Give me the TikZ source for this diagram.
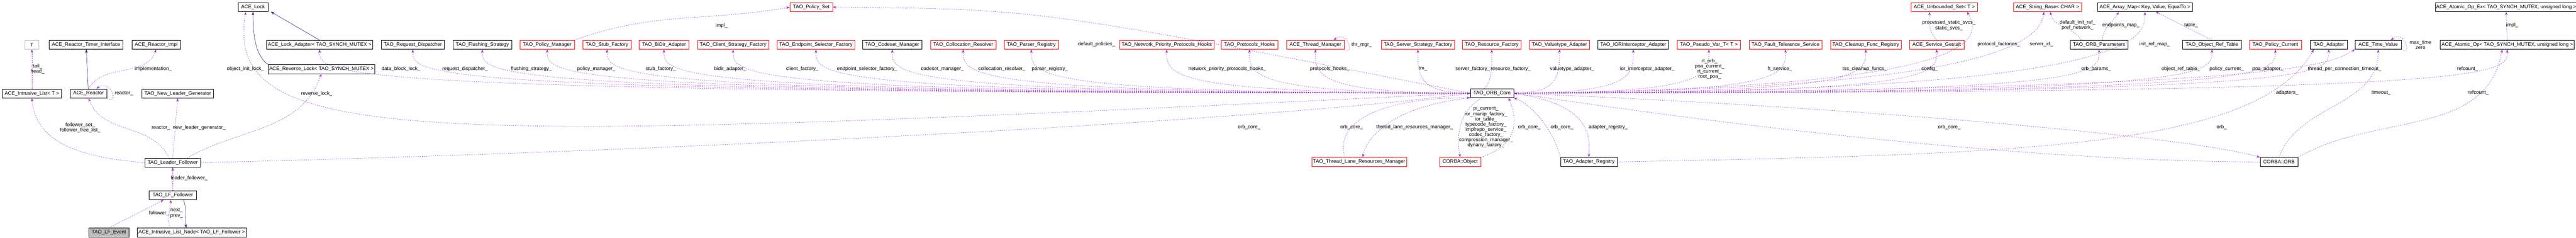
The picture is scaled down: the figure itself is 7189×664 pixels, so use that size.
\documentclass[tikz,border=0pt]{standalone}
\usepackage{fontspec}
\setmainfont{Liberation Sans}
\usetikzlibrary{arrows.meta}
\definecolor{usecol}{RGB}{154,50,205}
\definecolor{inhcol}{RGB}{25,25,112}
\begin{document}
\begin{tikzpicture}[x=1pt,y=1pt]
    \tikzset{
        cls/.style = {rectangle, draw=black, thick, fill=white, minimum height=25pt, inner sep=2pt, font=\fontsize{14}{15}\selectfont},
        redcls/.style = {cls, draw=red},
        lbl/.style = {align=center, inner sep=0pt, font=\fontsize{14}{14.6}\selectfont},
        use/.style = {draw=usecol, thick, dashed, -{Stealth[length=10pt, width=7pt]}},
        inh/.style = {draw=inhcol, thick, -{Stealth[length=10pt, width=7pt]}}
    }
    \useasboundingbox (0,0) rectangle (7189,-664);
    % top row
    \node[cls, minimum width=84pt] (lock) at (706,-20) {ACE\_Lock};
    \node[redcls, minimum width=119pt] (polset) at (2264,-20) {TAO\_Policy\_Set};
    \node[redcls, minimum width=186pt] (unbset) at (5426,-20) {ACE\_Unbounded\_Set< T >};
    \node[redcls, minimum width=190pt] (strbase) at (5714,-20) {ACE\_String\_Base< CHAR >};
    \node[cls, minimum width=264pt] (arrmap) at (5986,-20) {ACE\_Array\_Map< Key, Value, EqualTo >};
    \node[cls, minimum width=388pt] (atomex) at (6994,-20) {ACE\_Atomic\_Op\_Ex< TAO\_SYNCH\_MUTEX, unsigned long >};
    % second row
    \node[cls, draw=gray!50, minimum width=38pt] (T) at (89,-125) {T};
    \node[cls, minimum width=206pt] (rti) at (240,-125) {ACE\_Reactor\_Timer\_Interface};
    \node[cls, minimum width=136pt] (rimpl) at (436,-125) {ACE\_Reactor\_Impl};
    \node[cls, minimum width=296pt] (lockad) at (892,-125) {ACE\_Lock\_Adapter< TAO\_SYNCH\_MUTEX >};
    \node[cls, minimum width=176pt] (disp) at (1152,-125) {TAO\_Request\_Dispatcher};
    \node[cls, minimum width=164pt] (flush) at (1346,-125) {TAO\_Flushing\_Strategy};
    \node[redcls, minimum width=152pt] (polmgr) at (1527,-125) {TAO\_Policy\_Manager};
    \node[redcls, minimum width=134pt] (stubf) at (1694,-125) {TAO\_Stub\_Factory};
    \node[redcls, minimum width=139pt] (bidir) at (1853,-125) {TAO\_BiDir\_Adapter};
    \node[redcls, minimum width=198pt] (csf) at (2046,-125) {TAO\_Client\_Strategy\_Factory};
    \node[redcls, minimum width=217pt] (esf) at (2277,-125) {TAO\_Endpoint\_Selector\_Factory};
    \node[cls, minimum width=165pt] (codeset) at (2490,-125) {TAO\_Codeset\_Manager};
    \node[redcls, minimum width=182pt] (colloc) at (2688,-125) {TAO\_Collocation\_Resolver};
    \node[redcls, minimum width=150pt] (parser) at (2878,-125) {TAO\_Parser\_Registry};
    \node[redcls, minimum width=263pt] (nphooks) at (3256,-125) {TAO\_Network\_Priority\_Protocols\_Hooks};
    \node[redcls, minimum width=159pt] (phooks) at (3487,-125) {TAO\_Protocols\_Hooks};
    \node[redcls, minimum width=160pt] (thrmgr) at (3671,-125) {ACE\_Thread\_Manager};
    \node[redcls, minimum width=204pt] (ssf) at (3957,-125) {TAO\_Server\_Strategy\_Factory};
    \node[redcls, minimum width=164pt] (resf) at (4163,-125) {TAO\_Resource\_Factory};
    \node[redcls, minimum width=168pt] (vtad) at (4352,-125) {TAO\_Valuetype\_Adapter};
    \node[cls, minimum width=197pt] (iorad) at (4558,-125) {TAO\_IORInterceptor\_Adapter};
    \node[redcls, minimum width=176pt] (pseudo) at (4769,-125) {TAO\_Pseudo\_Var\_T< T >};
    \node[redcls, minimum width=204pt] (ftserv) at (4983,-125) {TAO\_Fault\_Tolerance\_Service};
    \node[redcls, minimum width=197pt] (cleanup) at (5207,-125) {TAO\_Cleanup\_Func\_Registry};
    \node[redcls, minimum width=152pt] (gestalt) at (5405,-125) {ACE\_Service\_Gestalt};
    \node[cls, minimum width=160pt] (orbparams) at (5858,-125) {TAO\_ORB\_Parameters};
    \node[cls, minimum width=163pt] (objref) at (6173,-125) {TAO\_Object\_Ref\_Table};
    \node[redcls, minimum width=145pt] (polcur) at (6350,-125) {TAO\_Policy\_Current};
    \node[cls, minimum width=103pt] (adapter) at (6499,-125) {TAO\_Adapter};
    \node[cls, minimum width=129pt] (timeval) at (6637,-125) {ACE\_Time\_Value};
    \node[cls, minimum width=374pt] (atomop) at (6997,-125) {ACE\_Atomic\_Op< TAO\_SYNCH\_MUTEX, unsigned long >};
    % middle rows
    \node[cls, minimum width=297pt] (revlock) at (897,-193) {ACE\_Reverse\_Lock< TAO\_SYNCH\_MUTEX >};
    \node[cls, minimum width=166pt] (ilist) at (89,-261) {ACE\_Intrusive\_List< T >};
    \node[cls, minimum width=103pt] (reactor) at (247,-261) {ACE\_Reactor};
    \node[cls, minimum width=199pt] (nlg) at (496,-261) {TAO\_New\_Leader\_Generator};
    \node[cls, minimum width=121pt] (core) at (4164,-260) {TAO\_ORB\_Core};
    % lower rows
    \node[cls, minimum width=155pt] (lf) at (482,-454) {TAO\_Leader\_Follower};
    \node[redcls, minimum width=264pt] (tlrm) at (3793,-452) {TAO\_Thread\_Lane\_Resources\_Manager};
    \node[redcls, minimum width=114pt] (cobj) at (4075,-452) {CORBA::Object};
    \node[cls, minimum width=158pt] (areg) at (4434,-452) {TAO\_Adapter\_Registry};
    \node[cls, minimum width=105pt] (corb) at (6360,-452) {CORBA::ORB};
    \node[cls, minimum width=131pt] (lff) at (482,-545) {TAO\_LF\_Follower};
    \node[cls, fill=gray!50, minimum width=113pt] (lfevent) at (304,-649) {TAO\_LF\_Event};
    \node[cls, minimum width=304pt] (ilnode) at (535,-649) {ACE\_Intrusive\_List\_Node< TAO\_LF\_Follower >};

    % inheritance
    \path[inh] (reactor) -- (rti);
    \path[inh] (lockad.north) -- ([xshift=50]lock.south);
    \path[inh] (revlock.north west) .. controls (720,-160) and (706,-120) .. (lock.south);
    \path[inh] ([xshift=30]lff.south) to[out=-70,in=100] ([xshift=-15]ilnode.north);

    % usage, left part
    \path[use] (ilist.north) -- (T.south);
    \path[use] (reactor.north) to[out=60,in=-110] (rimpl.south);
    \path[use] (reactor.south east) .. controls +(35,-20) and +(40,30) .. ([xshift=-30]reactor.north east);
    \path[use] (lf.west) to[out=175,in=-85] (ilist.south);
    \path[use] ([xshift=-10]lf.north) to[out=115,in=-70] (reactor.south);
    \path[use] (lf.north) -- (nlg.south);
    \path[use] ([xshift=40]lf.north) to[out=30,in=-110] (revlock.south);
    \path[use] (lff.north) -- (lf.south);
    \path[use] (lfevent.north) -- ([xshift=-25]lff.south);
    \path[use] ([xshift=-60]ilnode.north) to[out=110,in=-95] ([xshift=-5]lff.south);
    \path[use] (lf.east) .. controls (2000,-420) and (3600,-330) .. (core.west);
    \path[use] (core.west) .. controls (1200,-400) and (620,-420) .. ([xshift=-20]lock.south);
    \path[use] (core.west) .. controls (2900,-25) and (2900,-25) .. (polset.east);
    \path[use] (polmgr.north east) to[out=20,in=190] (polset.west);

    % usage from the core upwards
    \foreach \t in {lockad, disp, flush, polmgr, stubf, bidir, csf, esf, codeset, colloc, parser, nphooks, phooks, thrmgr, ssf, resf}
        \path[use] (core.west) .. controls (\t.south |- core.west) and ([yshift=-70]\t.south) .. (\t.south);
    \foreach \t in {vtad, iorad, pseudo, ftserv, cleanup, gestalt, orbparams, objref, polcur, adapter, atomop, arrmap}
        \path[use] (core.east) .. controls (\t.south |- core.east) and ([yshift=-70]\t.south) .. (\t.south);
    \path[use] (core.east) .. controls (6400,-250) and (6500,-180) .. (timeval.south west);
    \path[use] (thrmgr.south east) .. controls +(30,-20) and +(40,30) .. ([xshift=-30]thrmgr.north east);
    \path[use] (timeval.south east) .. controls +(30,-20) and +(40,30) .. ([xshift=-30]timeval.north east);
    \path[use] (core.east) .. controls (5500,-245) and (5540,-120) .. ([xshift=-30]unbset.south east);
    \path[use] (gestalt.north) to[bend left=25] ([xshift=-40]unbset.south);
    \path[use] (core.east) .. controls (5400,-250) and (5690,-150) .. ([xshift=-10]strbase.south);
    \path[use] ([xshift=-50]orbparams.north) to[out=120,in=-80] ([xshift=8]strbase.south);
    \path[use] ([xshift=10]orbparams.north) to[out=90,in=-120] ([xshift=-73]arrmap.south);
    \path[use] (objref.north) -- ([xshift=30]arrmap.south);
    \path[use] (atomop.north) -- (atomex.south);

    % usage around the core, lower part
    \path[use] (core.south west) .. controls (3860,-300) and (3810,-400) .. ([xshift=10]tlrm.north);
    \path[use] ([xshift=-40]tlrm.north) .. controls (3720,-320) and (3900,-272) .. (core.south west);
    \path[use] ([xshift=-30]core.south) .. controls (4060,-320) and (4068,-400) .. (cobj.north);
    \path[use] (cobj.north east) .. controls (4250,-400) and (4230,-320) .. ([xshift=-15]core.south east);
    \path[use] (areg.north west) .. controls (4340,-380) and (4290,-300) .. (core.south east);
    \path[use] (core.east) .. controls (4420,-290) and (4440,-360) .. (areg.north);
    \path[use] (areg.east) .. controls (5600,-430) and (6300,-420) .. ([xshift=10]adapter.south west);
    \path[use] (core.east) .. controls (5200,-300) and (6100,-380) .. (corb.north west);
    \path[use] (corb.west) .. controls (5500,-450) and (4500,-300) .. (core.east);
    \path[use] (corb.north) to[out=70,in=-90] (timeval.south);
    \path[use] (corb.north east) to[out=30,in=-100] ([xshift=-14]atomop.south);

    % labels
    \node[lbl] (l1) at (105,-193) {tail\_\\head\_};
    \node[lbl] (l2) at (428,-193) {implementation\_};
    \node[lbl] (l3) at (346,-261) {reactor\_};
    \node[lbl] (l4) at (685,-193) {object\_init\_lock\_};
    \node[lbl] (l5) at (1119,-193) {data\_block\_lock\_};
    \node[lbl] (l6) at (884,-261) {reverse\_lock\_};
    \node[lbl] (l7) at (224,-357) {follower\_set\_\\follower\_free\_list\_};
    \node[lbl] (l8) at (449,-357) {reactor\_};
    \node[lbl] (l9) at (556,-357) {new\_leader\_generator\_};
    \node[lbl] (l10) at (528,-498) {leader\_follower\_};
    \node[lbl] (l11) at (444,-595) {follower\_};
    \node[lbl] (l12) at (493,-595) {next\_\\prev\_};
    \node[lbl] (l13) at (2014,-72) {impl\_};
    \node[lbl] (l14) at (1298,-192) {request\_dispatcher\_};
    \node[lbl] (l15) at (1483,-192) {flushing\_strategy\_};
    \node[lbl] (l16) at (1664,-192) {policy\_manager\_};
    \node[lbl] (l17) at (1844,-192) {stub\_factory\_};
    \node[lbl] (l18) at (2038,-192) {bidir\_adapter\_};
    \node[lbl] (l19) at (2239,-192) {client\_factory\_};
    \node[lbl] (l20) at (2420,-192) {endpoint\_selector\_factory\_};
    \node[lbl] (l21) at (2630,-192) {codeset\_manager\_};
    \node[lbl] (l22) at (2796,-192) {collocation\_resolver\_};
    \node[lbl] (l23) at (2930,-192) {parser\_registry\_};
    \node[lbl] (l24) at (3060,-124) {default\_policies\_};
    \node[lbl] (l25) at (3425,-192) {network\_priority\_protocols\_hooks\_};
    \node[lbl] (l26) at (3486,-355) {orb\_core\_};
    \node[lbl] (l27) at (3800,-125) {thr\_mgr\_};
    \node[lbl] (l28) at (3711,-192) {protocols\_hooks\_};
    \node[lbl] (l29) at (3971,-192) {tm\_};
    \node[lbl] (l30) at (4110,-192) {server\_factory\_};
    \node[lbl] (l31) at (4216,-192) {resource\_factory\_};
    \node[lbl] (l32) at (4387,-192) {valuetype\_adapter\_};
    \node[lbl] (l33) at (4597,-192) {ior\_interceptor\_adapter\_};
    \node[lbl] (l34) at (4771,-193) {rt\_orb\_\\poa\_current\_\\rt\_current\_\\root\_poa\_};
    \node[lbl] (l35) at (4147,-355) {pi\_current\_\\ior\_manip\_factory\_\\ior\_table\_\\typecode\_factory\_\\implrepo\_service\_\\codec\_factory\_\\compression\_manager\_\\dynany\_factory\_};
    \node[lbl] (l36) at (3772,-355) {orb\_core\_};
    \node[lbl] (l37) at (3948,-355) {thread\_lane\_resources\_manager\_};
    \node[lbl] (l38) at (4268,-355) {orb\_core\_};
    \node[lbl] (l39) at (4359,-355) {orb\_core\_};
    \node[lbl] (l40) at (4488,-355) {adapter\_registry\_};
    \node[lbl] (l41) at (5439,-71) {processed\_static\_svcs\_\\static\_svcs\_};
    \node[lbl] (l42) at (5798,-71) {default\_init\_ref\_\\pref\_network\_};
    \node[lbl] (l43) at (5919,-71) {endpoints\_map\_};
    \node[lbl] (l44) at (5578,-124) {protocol\_factories\_};
    \node[lbl] (l45) at (5697,-124) {server\_id\_};
    \node[lbl] (l46) at (6013,-124) {init\_ref\_map\_};
    \node[lbl] (l47) at (4967,-192) {ft\_service\_};
    \node[lbl] (l48) at (5204,-192) {tss\_cleanup\_funcs\_};
    \node[lbl] (l49) at (5385,-192) {config\_};
    \node[lbl] (l50) at (5850,-192) {orb\_params\_};
    \node[lbl] (l51) at (5440,-355) {orb\_core\_};
    \node[lbl] (l52) at (6115,-71) {table\_};
    \node[lbl] (l53) at (6755,-125) {max\_time\\zero};
    \node[lbl] (l54) at (7011,-71) {impl\_};
    \node[lbl] (l55) at (6086,-192) {object\_ref\_table\_};
    \node[lbl] (l56) at (6214,-192) {policy\_current\_};
    \node[lbl] (l57) at (6329,-192) {poa\_adapter\_};
    \node[lbl] (l58) at (6543,-192) {thread\_per\_connection\_timeout\_};
    \node[lbl] (l59) at (6886,-192) {refcount\_};
    \node[lbl] (l60) at (6383,-259) {adapters\_};
    \node[lbl] (l61) at (6645,-259) {timeout\_};
    \node[lbl] (l62) at (6916,-259) {refcount\_};
    \node[lbl] (l63) at (6200,-355) {orb\_};
\end{tikzpicture}
\end{document}
